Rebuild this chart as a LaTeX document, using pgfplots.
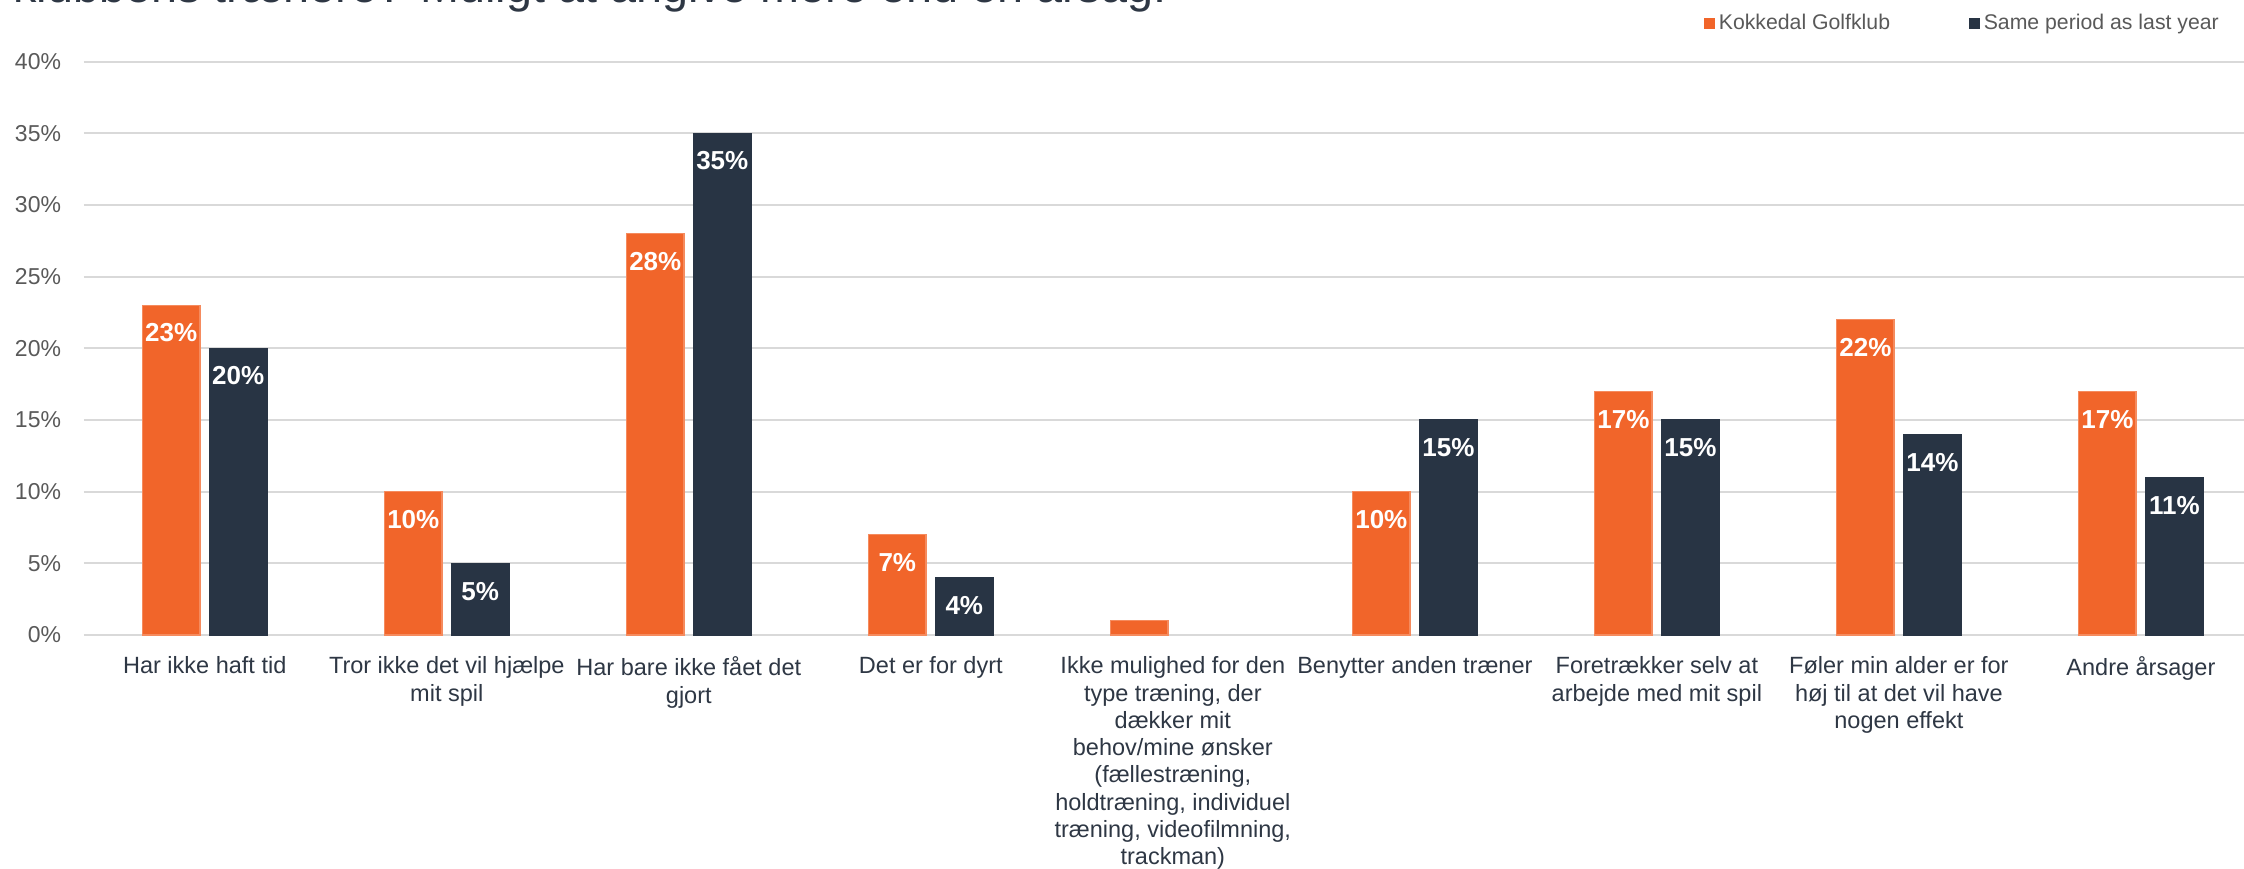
\documentclass[border=0pt]{standalone}
\usepackage{fontspec}
\setmainfont{Liberation Sans}
\usepackage{pgfplots}
\pgfplotsset{compat=1.18}
\definecolor{korange}{HTML}{F1652A}
\definecolor{kedge}{HTML}{F58B5E}
\definecolor{knavy}{HTML}{283444}
\definecolor{kgrid}{HTML}{D9D9D9}
\definecolor{ktick}{HTML}{595959}
\definecolor{klabel}{HTML}{2E3744}
\begin{document}
\begin{tikzpicture}
\useasboundingbox (-33.5pt,-93.2pt) rectangle (864pt,254pt);
\clip (-33.5pt,-93.2pt) rectangle (864pt,254pt);
\begin{axis}[
  at={(0,0)}, anchor=south west,
  scale only axis, width=864pt, height=229.4pt,
  xmin=-0.5, xmax=8.426, ymin=0, ymax=40,
  axis line style={draw=none},
  tick style={draw=none}, major tick length=0pt,
  ytick={0,5,...,40},
  yticklabel={\pgfmathprintnumber{\tick}\%},
  /pgf/number format/assume math mode=true,
  yticklabel style={font=\fontsize{9.2}{11}\selectfont, text=ktick, anchor=east, inner sep=0pt, xshift=-8.9pt},
  xtick={0,...,8},
  xticklabels={
    {Har ikke haft tid},
    {Tror ikke det vil hjælpe\\mit spil},
    {Har bare ikke fået det\\gjort},
    {Det er for dyrt},
    {Ikke mulighed for den\\type træning, der\\dækker mit\\behov/mine ønsker\\(fællestræning,\\holdtræning, individuel\\træning, videofilmning,\\trackman)},
    {Benytter anden træner},
    {Foretrækker selv at\\arbejde med mit spil},
    {Føler min alder er for\\høj til at det vil have\\nogen effekt},
    {Andre årsager}},
  xticklabel style={font=\fontsize{9.4}{10.9}\selectfont, text=klabel, align=center, anchor=north, inner sep=0pt, yshift=-8.5pt},
  ymajorgrids, grid style={kgrid, line width=0.8pt},
  ybar, bar width=22.9pt,
  legend columns=2,
  legend style={at={(0,1)}, anchor=west, xshift=648.1pt, yshift=15.1pt,
    draw=none, fill=none, inner sep=0pt, outer sep=0pt,
    font=\fontsize{8.5}{10}\selectfont, text=ktick,
    nodes={inner sep=0pt},
    /tikz/every even column/.append style={column sep=31.6pt}},
  lbl/.style={nodes near coords={\pgfmathprintnumber{\pgfplotspointmeta}\%},
    every node near coord/.append style={font=\bfseries\fontsize{10.4}{12}\selectfont, text=white, anchor=center, yshift=-11.1pt}},
  sq/.style={legend image code/.code={\fill[##1, draw=none] (0pt,-2.2pt) rectangle (4.4pt,2.2pt); \path (5.6pt,0pt);}},
]
\addplot[fill=korange, draw=kedge, line width=0.5pt, bar shift=-13.4pt, lbl, sq]
  coordinates {(0,23) (1,10) (2,28) (3,7) (5,10) (6,17) (7,22) (8,17)};
\addplot[fill=knavy, draw=knavy, line width=0.5pt, bar shift=13.4pt, lbl, sq]
  coordinates {(0,20) (1,5) (2,35) (3,4) (5,15) (6,15) (7,14) (8,11)};
\addplot[fill=korange, draw=kedge, line width=0.5pt, bar shift=-13.4pt, forget plot]
  coordinates {(4,1)};
\legend{Kokkedal Golfklub, Same period as last year}
\end{axis}
\node[anchor=base east, font=\fontsize{18.7}{22}\selectfont, text=klabel, inner sep=0pt] at (433.3pt,252.8pt) {Hvorfor har du ikke benyttet klubbens trænere? Muligt at angive mere end én årsag.};
\end{tikzpicture}
\end{document}
